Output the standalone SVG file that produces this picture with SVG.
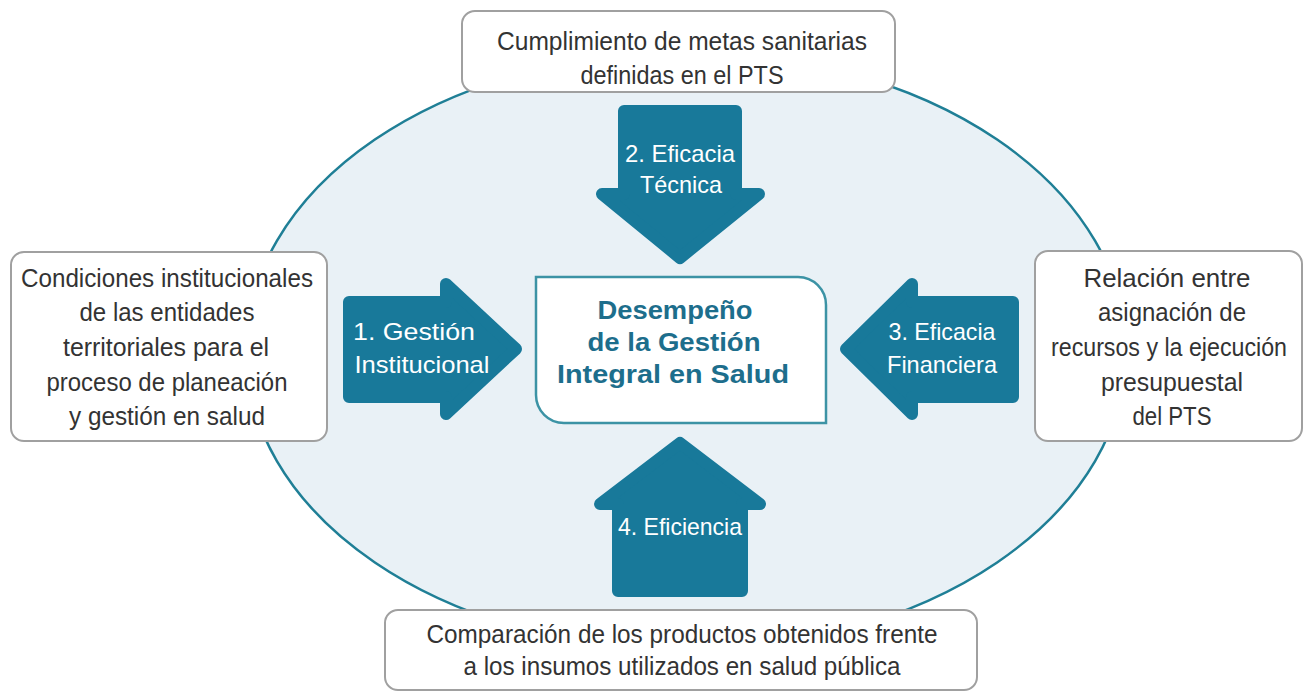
<svg xmlns="http://www.w3.org/2000/svg" width="1307" height="692" viewBox="0 0 1307 692">
<style>
.box{fill:#ffffff;stroke:#a0a0a0;stroke-width:2}
.bt{font-family:"Liberation Sans",Arial,sans-serif;font-size:26px;fill:#333333;text-anchor:middle}
.ct{font-family:"Liberation Sans",Arial,sans-serif;font-size:26px;font-weight:bold;fill:#1d6e8c;text-anchor:middle}
.arrow{fill:#18799a;stroke:#18799a;stroke-width:12;stroke-linejoin:round}
.at{font-family:"Liberation Sans",Arial,sans-serif;font-size:24px;fill:#ffffff;text-anchor:middle}
</style>
<rect width="1307" height="692" fill="#ffffff"/>
<ellipse id="ellipse" cx="686" cy="351" rx="440" ry="299" fill="#e9f1f6" stroke="#1f7f96" stroke-width="2.5"/>

<g id="center">
<path d="M536,277 H798 A28,28 0 0 1 826,305 V423 H564 A28,28 0 0 1 536,395 Z" fill="#ffffff" stroke="#3c93a5" stroke-width="2.5"/>
<text class="ct" x="675" y="319" textLength="155" lengthAdjust="spacingAndGlyphs">Desempeño</text>
<text class="ct" x="674" y="351" textLength="173" lengthAdjust="spacingAndGlyphs">de la Gestión</text>
<text class="ct" x="673" y="383" textLength="232" lengthAdjust="spacingAndGlyphs">Integral en Salud</text>
</g>

<g id="connectors">
<g id="arrow1">
<polygon class="arrow" points="349,302 446,302 446,284 516,349 446,414 446,397 349,397"/>
<text class="at" x="414" y="340" textLength="122" lengthAdjust="spacingAndGlyphs">1. Gestión</text>
<text class="at" x="422" y="373" textLength="135" lengthAdjust="spacingAndGlyphs">Institucional</text>
</g>
<g id="arrow2">
<polygon class="arrow" points="624,111 736,111 736,194 759,194 680,258 602,194 624,194"/>
<text class="at" x="680" y="162" textLength="110" lengthAdjust="spacingAndGlyphs">2. Eficacia</text>
<text class="at" x="681" y="193" textLength="82" lengthAdjust="spacingAndGlyphs">Técnica</text>
</g>
<g id="arrow3">
<polygon class="arrow" points="1013,302 912,302 912,284 846,349 912,414 912,397 1013,397"/>
<text class="at" x="942" y="340" textLength="107" lengthAdjust="spacingAndGlyphs">3. Eficacia</text>
<text class="at" x="942" y="373" textLength="110" lengthAdjust="spacingAndGlyphs">Financiera</text>
</g>
<g id="arrow4">
<polygon class="arrow" points="680,443 760,504 742,504 742,591 618,591 618,504 600,504"/>
<text class="at" x="680" y="535" textLength="124" lengthAdjust="spacingAndGlyphs">4. Eficiencia</text>
</g>
</g>

<g id="box-top">
<rect class="box" x="462" y="11" width="433" height="81" rx="13"/>
<text class="bt" x="682" y="50" textLength="370" lengthAdjust="spacingAndGlyphs">Cumplimiento de metas sanitarias</text>
<text class="bt" x="682" y="84" textLength="203" lengthAdjust="spacingAndGlyphs">definidas en el PTS</text>
</g>

<g id="box-left">
<rect class="box" x="11" y="252" width="316" height="189" rx="13"/>
<text class="bt" x="167" y="287" textLength="292" lengthAdjust="spacingAndGlyphs">Condiciones institucionales</text>
<text class="bt" x="167" y="321" textLength="175" lengthAdjust="spacingAndGlyphs">de las entidades</text>
<text class="bt" x="166" y="356" textLength="206" lengthAdjust="spacingAndGlyphs">territoriales para el</text>
<text class="bt" x="167" y="391" textLength="241" lengthAdjust="spacingAndGlyphs">proceso de planeación</text>
<text class="bt" x="167" y="425" textLength="196" lengthAdjust="spacingAndGlyphs">y gestión en salud</text>
</g>

<g id="box-right">
<rect class="box" x="1035" y="251" width="267" height="190" rx="13"/>
<text class="bt" x="1167" y="287" textLength="167" lengthAdjust="spacingAndGlyphs">Relación entre</text>
<text class="bt" x="1172" y="321" textLength="148" lengthAdjust="spacingAndGlyphs">asignación de</text>
<text class="bt" x="1169" y="356" textLength="236" lengthAdjust="spacingAndGlyphs">recursos y la ejecución</text>
<text class="bt" x="1172" y="391" textLength="142" lengthAdjust="spacingAndGlyphs">presupuestal</text>
<text class="bt" x="1172" y="425" textLength="79" lengthAdjust="spacingAndGlyphs">del PTS</text>
</g>

<g id="box-bottom">
<rect class="box" x="385" y="610" width="592" height="80" rx="13"/>
<text class="bt" x="682" y="643" textLength="511" lengthAdjust="spacingAndGlyphs">Comparación de los productos obtenidos frente</text>
<text class="bt" x="682" y="675" textLength="437" lengthAdjust="spacingAndGlyphs">a los insumos utilizados en salud pública</text>
</g>
</svg>
